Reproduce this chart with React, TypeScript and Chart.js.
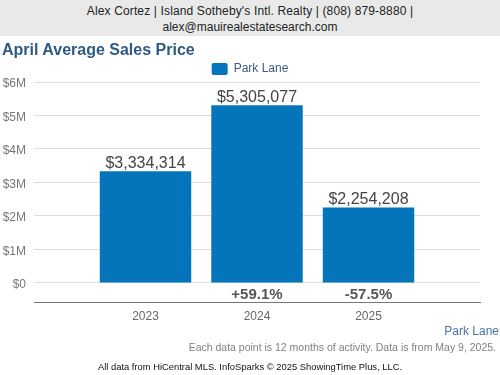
import React, { useEffect, useRef } from "react";
import { Chart, registerables } from "chart.js";

Chart.register(...registerables);

const categories = ["2023", "2024", "2025"];
const values = [3334314, 5305077, 2254208];
const yTicks = [0, 1000000, 2000000, 3000000, 4000000, 5000000, 6000000];
const seriesName = "Park Lane";

const FONT = "'Liberation Sans', Arial, sans-serif";
const BAR_COLOR = "#0474bb";

const fmtMoney = (v: number) => "$" + v.toLocaleString("en-US");
const pctLabels = values.map((v, i) => {
  if (i === 0) return "";
  const p = (v / values[i - 1] - 1) * 100;
  return (p >= 0 ? "+" : "") + p.toFixed(1) + "%";
});

const barLabels = {
  id: "barLabels",
  afterDatasetsDraw(chart: any) {
    const { ctx } = chart;
    const meta = chart.getDatasetMeta(0);
    const y0 = chart.scales.y.getPixelForValue(0);
    meta.data.forEach((bar: any, idx: number) => {
      const i = idx - 1;
      if (i < 0 || i >= values.length) return;
      ctx.save();
      ctx.textAlign = "center";
      ctx.font = `16px ${FONT}`;
      ctx.fillStyle = "#444";
      ctx.textBaseline = "alphabetic";
      ctx.fillText(fmtMoney(values[i]), bar.x, bar.y - 3);
      if (pctLabels[i]) {
        ctx.font = `bold 15px ${FONT}`;
        ctx.fillStyle = "#555";
        ctx.textBaseline = "middle";
        ctx.fillText(pctLabels[i], bar.x, y0 + 12);
      }
      ctx.restore();
    });
  },
};

export default function App() {
  const ref = useRef<HTMLCanvasElement | null>(null);

  useEffect(() => {
    if (!ref.current) return;
    const chart = new Chart(ref.current, {
      type: "bar",
      data: {
        labels: ["", ...categories, ""],
        datasets: [
          {
            label: seriesName,
            data: [null, ...values, null] as any,
            backgroundColor: BAR_COLOR,
            borderWidth: 0,
            barPercentage: 0.82,
            categoryPercentage: 1,
          },
        ],
      },
      options: {
        responsive: false,
        animation: false,
        devicePixelRatio: 1,
        layout: { padding: { top: 59, bottom: 49, left: 0, right: 0 } },
        font: { family: FONT },
        plugins: {
          tooltip: { enabled: false },
          legend: {
            display: true,
            position: "top",
            maxHeight: 23,
            labels: {
              boxWidth: 16,
              boxHeight: 12,
              padding: 4,
              useBorderRadius: true,
              borderRadius: 2,
              color: "#3d5a80",
              font: { family: FONT, size: 12 },
            },
          },
        },
        scales: {
          x: {
            type: "category",
            offset: false,
            grid: { display: false, drawTicks: false },
            border: { display: true, color: "#777", width: 1 },
            ticks: {
              color: "#666",
              font: { family: FONT, size: 12 },
              padding: 7,
              autoSkip: false,
              maxRotation: 0,
            },
            afterFit: (s: any) => {
              s.height = 24;
            },
          },
          y: {
            type: "linear",
            min: -570000,
            max: 6000000,
            grid: { color: "#dddddd", lineWidth: 1, drawTicks: false },
            border: { display: false },
            ticks: {
              color: "#777",
              font: { family: FONT, size: 12 },
              padding: 8,
              labelOffset: 2,
              callback: (v: any) => (v === 0 ? "$0" : "$" + Number(v) / 1000000 + "M"),
            },
            afterBuildTicks: (s: any) => {
              s.ticks = yTicks.map((v) => ({ value: v }));
            },
            afterFit: (s: any) => {
              s.width = 34;
            },
          },
          y2: {
            type: "linear",
            position: "right",
            display: true,
            grid: { display: false, drawTicks: false },
            border: { display: false },
            ticks: { display: false },
            afterFit: (s: any) => {
              s.width = 20;
            },
          },
        },
      },
      plugins: [barLabels],
    });
    return () => chart.destroy();
  }, []);

  const abs: React.CSSProperties = { position: "absolute", margin: 0, whiteSpace: "nowrap" };

  return (
    <div
      style={{
        position: "absolute",
        left: 0,
        top: 0,
        width: 500,
        height: 375,
        background: "#fff",
        fontFamily: FONT,
        overflow: "hidden",
      }}
    >
      <canvas ref={ref} width={500} height={375} style={{ position: "absolute", left: 0, top: 0, width: 500, height: 375 }} />
      <div
        style={{
          ...abs,
          left: 0,
          top: 0,
          width: 500,
          height: 36,
          background: "#e9e9e9",
          textAlign: "center",
          fontSize: 12,
          lineHeight: "16px",
          paddingTop: 3,
          boxSizing: "border-box",
          color: "#222",
        }}
      >
        <span style={{ letterSpacing: "0.14px" }}>Alex Cortez | Island Sotheby's Intl. Realty | (808) 879-8880 |</span>
        <br />
        alex@mauirealestatesearch.com
      </div>
      <div style={{ ...abs, left: 2, top: 40, fontSize: 16, lineHeight: "20px", fontWeight: "bold", color: "#2e5a86" }}>
        April Average Sales Price
      </div>
      <div style={{ ...abs, right: 1, top: 324, fontSize: 12, lineHeight: "14px", color: "#4a72a6" }}>Park Lane</div>
      <div style={{ ...abs, right: 4, top: 341, fontSize: 10.5, lineHeight: "13px", color: "#808080" }}>
        Each data point is 12 months of activity. Data is from May 9, 2025.
      </div>
      <div style={{ ...abs, left: 0, width: 500, textAlign: "center", top: 361, fontSize: 9.4, lineHeight: "11px", color: "#111" }}>
        All data from HiCentral MLS. InfoSparks © 2025 ShowingTime Plus, LLC.
      </div>
    </div>
  );
}
